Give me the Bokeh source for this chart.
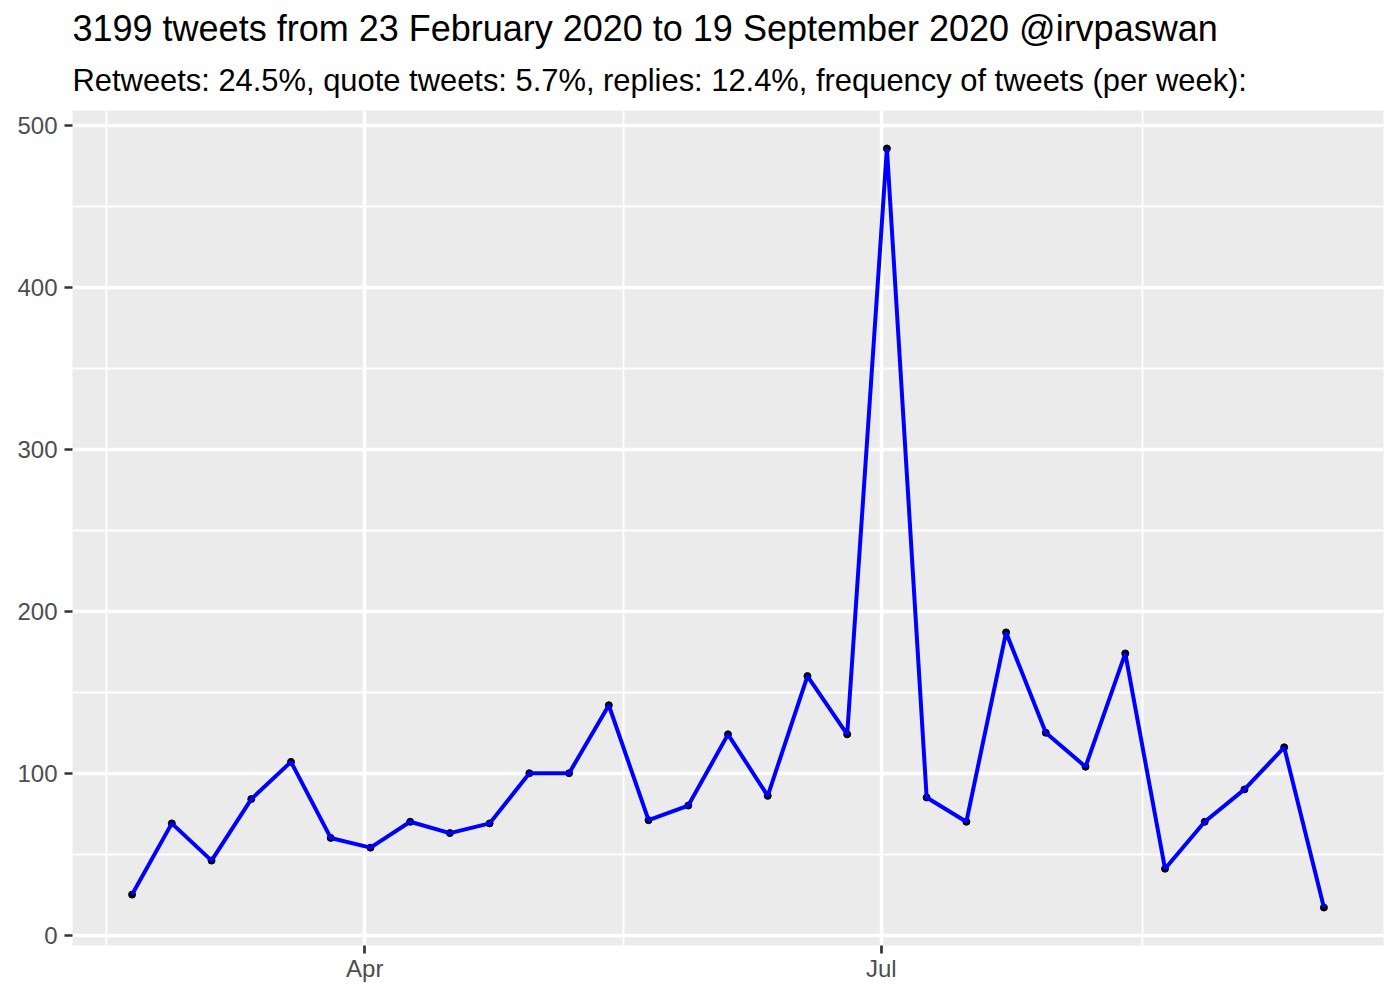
import pandas as pd
from bokeh.plotting import figure
from bokeh.models import FixedTicker, DatetimeTickFormatter, Title, Range1d
from bokeh.embed import file_html
from bokeh.resources import INLINE

# ---- data ----
week_start = ["2020-02-20", "2020-02-27", "2020-03-05", "2020-03-12", "2020-03-19",
              "2020-03-26", "2020-04-02", "2020-04-09", "2020-04-16", "2020-04-23",
              "2020-04-30", "2020-05-07", "2020-05-14", "2020-05-21", "2020-05-28",
              "2020-06-04", "2020-06-11", "2020-06-18", "2020-06-25", "2020-07-02",
              "2020-07-09", "2020-07-16", "2020-07-23", "2020-07-30", "2020-08-06",
              "2020-08-13", "2020-08-20", "2020-08-27", "2020-09-03", "2020-09-10",
              "2020-09-17"]
tweets_per_week = [25, 69, 46, 84, 107, 60, 54, 70, 63, 69, 100, 100, 142, 71, 80,
                   124, 86, 160, 124, 486, 85, 70, 187, 125, 104, 174, 41, 70, 90,
                   116, 17]
x_major = ["2020-04-01", "2020-07-01"]
x_minor = ["2020-02-15 12:00", "2020-05-16 12:00", "2020-08-16"]
y_major = [0, 100, 200, 300, 400, 500]
y_minor = [50, 150, 250, 350, 450]
title_text = "3199 tweets from 23 February 2020 to 19 September 2020 @irvpaswan"
subtitle_text = ("Retweets: 24.5%, quote tweets: 5.7%, replies: 12.4%, "
                 "frequency of tweets (per week):")

dates = pd.to_datetime(week_start)
to_ms = lambda s: pd.Timestamp(s).value / 1e6

# ggplot-like expansion (5%)
xmin, xmax = dates.min(), dates.max()
xpad = (xmax - xmin) * 0.05
ymin, ymax = min(tweets_per_week), max(tweets_per_week)
ypad = (ymax - ymin) * 0.05

FONT = "Liberation Sans"

p = figure(width=1384, height=984, x_axis_type="datetime",
           x_range=Range1d(xmin - xpad, xmax + xpad),
           y_range=Range1d(ymin - ypad, ymax + ypad),
           title=None, toolbar_location=None, output_backend="svg",
           min_border_left=72, min_border_right=1, min_border_top=110,
           min_border_bottom=37)

p.add_layout(Title(text=subtitle_text, text_font=FONT, text_font_size="30.9px",
                   text_font_style="normal", text_color="#000000", standoff=25), "above")
p.add_layout(Title(text=title_text, text_font=FONT, text_font_size="36px",
                   text_font_style="normal", text_color="#000000", standoff=0), "above")

p.background_fill_color = "#EBEBEB"
p.border_fill_color = "white"
p.outline_line_color = None

p.xaxis.ticker = FixedTicker(ticks=[to_ms(s) for s in x_major],
                             minor_ticks=[to_ms(s) for s in x_minor])
p.xaxis.formatter = DatetimeTickFormatter(months="%b", days="%b", hours="%b",
                                          years="%b", minutes="%b")
p.yaxis.ticker = FixedTicker(ticks=y_major, minor_ticks=y_minor)

for ax in (p.xaxis, p.yaxis):
    ax.axis_line_color = None
    ax.major_tick_line_color = "#333333"
    ax.major_tick_line_width = 2.7
    ax.major_tick_out = 8
    ax.major_tick_in = 0
    ax.minor_tick_line_color = None
    ax.major_label_text_font = FONT
    ax.major_label_text_font_size = "24px"
    ax.major_label_text_color = "#4D4D4D"
    ax.major_label_standoff = 7
p.xaxis.major_label_standoff = 1

for g in (p.xgrid, p.ygrid):
    g.grid_line_color = "white"
    g.grid_line_width = 3.5
    g.minor_grid_line_color = "white"
    g.minor_grid_line_width = 1.8

p.scatter(dates, tweets_per_week, size=7, color="black")
p.line(dates, tweets_per_week, line_color="#0000FF", line_width=4)

open("out.html", "w").write(file_html(p, INLINE))
